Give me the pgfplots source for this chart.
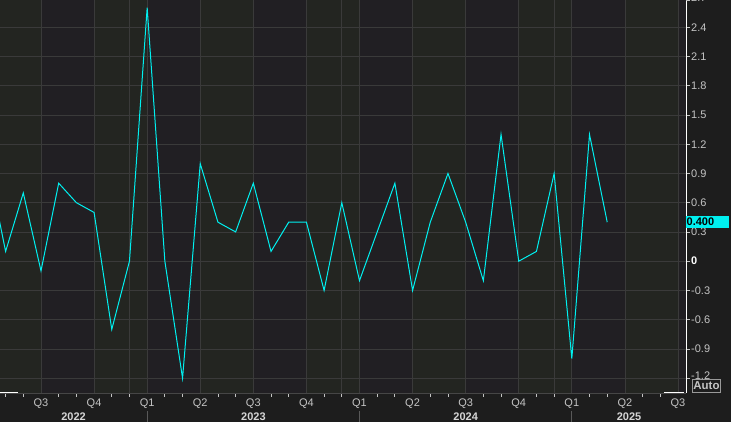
\documentclass[border=0pt]{standalone}
\usepackage{pgfplots}
\pgfplotsset{compat=1.18}
\usepackage{fontspec}
\setmainfont{Liberation Sans}

\definecolor{panel}{HTML}{1D1D1D}
\definecolor{bandA}{HTML}{232521}
\definecolor{bandB}{HTML}{211F23}
\definecolor{gridc}{HTML}{3A3A3A}
\definecolor{labc}{HTML}{C4C4C4}
\definecolor{yearc}{HTML}{D6D6D6}
\definecolor{serc}{HTML}{00F0F0}
\pagecolor{panel}

\begin{document}
\begin{tikzpicture}
\begin{axis}[
    set layers=standard,
    at={(0pt,0pt)}, anchor=south west,
    scale only axis, width=686pt, height=393pt,
    xmin=-8.317, xmax=30.453, ymin=-1.352, ymax=2.679,
    separate axis lines,
    axis x line*=bottom, axis y line*=right,
    x axis line style={draw=gray!55!black},
    y axis line style={draw=white, line width=1pt},
    xtick={-6,-3,...,30},
    xticklabels={Q3,Q4,Q1,Q2,Q3,Q4,Q1,Q2,Q3,Q4,Q1,Q2,Q3},
    minor xtick={-8,-7,-5,-4,-2,-1,1,2,4,5,7,8,10,11,13,14,16,17,19,20,22,23,25,26,28,29},
    ytick={-1.2,-0.9,-0.6,-0.3,0,0.3,0.6,0.9,1.2,1.5,1.8,2.1,2.4},
    yticklabels={\raisebox{6pt}{-1.2},-0.9,-0.6,-0.3,\textcolor{white}{\bfseries 0},0.3,0.6,0.9,1.2,1.5,1.8,2.1,2.4},
    minor ytick={-1.2,-0.9,-0.6,-0.3,0,0.3,0.6,0.9,1.2,1.5,1.8,2.1,2.4},
    extra x ticks={-1,11,23}, extra x tick labels={},
    extra x tick style={grid=major},
    tick align=outside,
    major tick length=0pt, minor tick length=4pt,
    minor tick style={draw=labc, line width=0.8pt},
    xmajorgrids, ymajorgrids,
    major grid style={draw=gridc, line width=0.8pt},
    ticklabel style={font=\fontsize{11}{13}\selectfont, text=labc},
    xticklabel style={anchor=center, yshift=-10.5pt},
    yticklabel style={anchor=west, inner sep=0pt, xshift=5pt},
]
% quarter shading
\addplot[on layer=axis background, fill=bandA, draw=none]
    coordinates {(-8.317,-1.352) (-8.317,2.679) (30.453,2.679) (30.453,-1.352)} -- cycle;
\addplot[on layer=axis background, fill=bandB, draw=none]
    coordinates {(-6,-1.352) (-6,2.679) (-3,2.679) (-3,-1.352)} -- cycle;
\addplot[on layer=axis background, fill=bandB, draw=none]
    coordinates {(0,-1.352) (0,2.679) (3,2.679) (3,-1.352)} -- cycle;
\addplot[on layer=axis background, fill=bandB, draw=none]
    coordinates {(6,-1.352) (6,2.679) (9,2.679) (9,-1.352)} -- cycle;
\addplot[on layer=axis background, fill=bandB, draw=none]
    coordinates {(12,-1.352) (12,2.679) (15,2.679) (15,-1.352)} -- cycle;
\addplot[on layer=axis background, fill=bandB, draw=none]
    coordinates {(18,-1.352) (18,2.679) (21,2.679) (21,-1.352)} -- cycle;
\addplot[on layer=axis background, fill=bandB, draw=none]
    coordinates {(24,-1.352) (24,2.679) (27,2.679) (27,-1.352)} -- cycle;
\addplot[on layer=axis background, fill=bandB, draw=none]
    coordinates {(30,-1.352) (30,2.679) (30.453,2.679) (30.453,-1.352)} -- cycle;

% monthly values, Jan 2023 = 0
\addplot[serc, line width=1pt, mark=none] coordinates {
    (-9,1.0) (-8,0.1) (-7,0.7) (-6,-0.1) (-5,0.8) (-4,0.6) (-3,0.5)
    (-2,-0.7) (-1,0.0) (0,2.6) (1,0.0) (2,-1.2) (3,1.0) (4,0.4)
    (5,0.3) (6,0.8) (7,0.1) (8,0.4) (9,0.4) (10,-0.3) (11,0.6)
    (12,-0.2) (13,0.3) (14,0.8) (15,-0.3) (16,0.4) (17,0.9) (18,0.4)
    (19,-0.2) (20,1.3) (21,0.0) (22,0.1) (23,0.9) (24,-1.0) (25,1.3)
    (26,0.4)
};
\coordinate (last) at (axis cs:30.453,0.4);
\end{axis}

% top tick label, half outside the page as in the source
\node[font=\fontsize{11}{13}\selectfont, text=labc, anchor=west, inner sep=0pt]
    at (691pt,395pt) {2.7};
\draw[labc, line width=0.8pt] (686pt,393pt) -- (690pt,393pt);

% range marks on the time axis
\draw[white, line width=1pt] (0pt,0pt) -- (17.7pt,0pt);
\draw[white, line width=1pt] (664pt,0pt) -- (684pt,0pt);

% year separators and labels
\foreach \xs in {147.2,359.5,571.8}
    \draw[gray!70!black, line width=0.8pt] (\xs pt,-18pt) -- (\xs pt,-29pt);
\foreach \xs/\yr in {73.6/2022,253.4/2023,465.7/2024,629/2025}
    \node[font=\bfseries\fontsize{11}{13}\selectfont, text=yearc] at (\xs pt,-23.5pt) {\yr};

% last value tag
\node[fill=serc, text=black, font=\bfseries\fontsize{11}{13}\selectfont,
      anchor=west, inner sep=0.5pt, minimum height=12.3pt,
      text width=42pt, align=left] at (last) {0.400};

% Auto button
\node[draw=gray!80!white, line width=0.8pt, fill=panel, text=labc,
      font=\bfseries\fontsize{11.5}{13}\selectfont,
      inner sep=1pt, minimum width=28pt, minimum height=12.5pt,
      anchor=south west] at (692pt,0.5pt) {Auto};

\pgfresetboundingbox
\useasboundingbox (0pt,-29pt) rectangle (731pt,393pt);
\end{tikzpicture}
\end{document}
